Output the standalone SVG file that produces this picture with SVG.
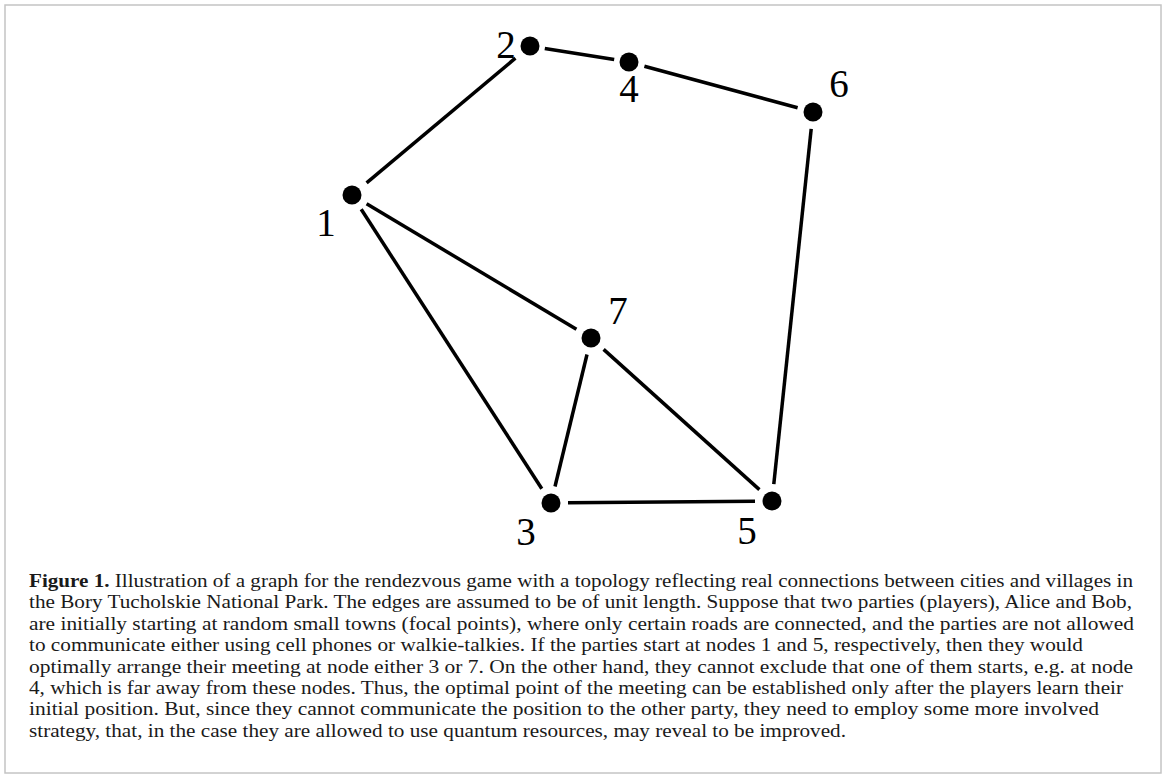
<svg xmlns="http://www.w3.org/2000/svg" width="1166" height="778" viewBox="0 0 1166 778">
<style>
.frame{fill:#fff;stroke:#c4c4c4;stroke-width:1.5}
.edge{stroke:#000;stroke-width:3.5;stroke-linecap:butt;fill:none}
.dot{fill:#000}
.lbl{font-family:"Liberation Serif","Times New Roman",serif;font-size:39px;fill:#000;text-anchor:middle}
.cap{font-family:"Liberation Serif","Times New Roman",serif;font-size:19px;fill:#1a1a1a}
.b{font-weight:bold}
</style>
<rect class="frame" x="5" y="5" width="1156" height="768"/>
<g id="connectors">
<line class="edge" x1="366.6" y1="182.8" x2="515.4" y2="58.2"/>
<line class="edge" x1="544.8" y1="48.4" x2="614.2" y2="59.6"/>
<line class="edge" x1="644.4" y1="66.2" x2="797.6" y2="107.8"/>
<line class="edge" x1="811.2" y1="128.9" x2="773.8" y2="484.1"/>
<line class="edge" x1="366.6" y1="203.7" x2="576.4" y2="329.3"/>
<line class="edge" x1="361.2" y1="209.3" x2="541.8" y2="488.7"/>
<line class="edge" x1="587" y1="354.5" x2="555" y2="486.5"/>
<line class="edge" x1="603.6" y1="349.4" x2="759.4" y2="489.6"/>
<line class="edge" x1="568" y1="502.8" x2="755" y2="501.2"/>
</g>
<g id="node1"><circle class="dot" cx="352" cy="195" r="9.5"/><text class="lbl" x="326" y="236">1</text></g>
<g id="node2"><circle class="dot" cx="530" cy="46" r="9.5"/><text class="lbl" x="506" y="58">2</text></g>
<g id="node3"><circle class="dot" cx="551" cy="503" r="9.5"/><text class="lbl" x="526" y="545">3</text></g>
<g id="node4"><circle class="dot" cx="629" cy="62" r="9.5"/><text class="lbl" x="629" y="102">4</text></g>
<g id="node5"><circle class="dot" cx="772" cy="501" r="9.5"/><text class="lbl" x="747" y="544">5</text></g>
<g id="node6"><circle class="dot" cx="813" cy="112" r="9.5"/><text class="lbl" x="839" y="97">6</text></g>
<g id="node7"><circle class="dot" cx="591" cy="338" r="9.5"/><text class="lbl" x="618" y="324">7</text></g>
<g id="caption">
<text class="cap" x="29" y="587" textLength="1104" lengthAdjust="spacingAndGlyphs"><tspan class="b">Figure 1.</tspan> Illustration of a graph for the rendezvous game with a topology reflecting real connections between cities and villages in</text>
<text class="cap" x="29" y="608.4" textLength="1103" lengthAdjust="spacingAndGlyphs">the Bory Tucholskie National Park. The edges are assumed to be of unit length. Suppose that two parties (players), Alice and Bob,</text>
<text class="cap" x="29" y="629.8" textLength="1105" lengthAdjust="spacingAndGlyphs">are initially starting at random small towns (focal points), where only certain roads are connected, and the parties are not allowed</text>
<text class="cap" x="29" y="651.2" textLength="1054" lengthAdjust="spacingAndGlyphs">to communicate either using cell phones or walkie-talkies. If the parties start at nodes 1 and 5, respectively, then they would</text>
<text class="cap" x="29" y="672.6" textLength="1104" lengthAdjust="spacingAndGlyphs">optimally arrange their meeting at node either 3 or 7. On the other hand, they cannot exclude that one of them starts, e.g. at node</text>
<text class="cap" x="29" y="694" textLength="1094" lengthAdjust="spacingAndGlyphs">4, which is far away from these nodes. Thus, the optimal point of the meeting can be established only after the players learn their</text>
<text class="cap" x="29" y="715.4" textLength="1070" lengthAdjust="spacingAndGlyphs">initial position. But, since they cannot communicate the position to the other party, they need to employ some more involved</text>
<text class="cap" x="29" y="736.8" textLength="817" lengthAdjust="spacingAndGlyphs">strategy, that, in the case they are allowed to use quantum resources, may reveal to be improved.</text>
</g>
</svg>
